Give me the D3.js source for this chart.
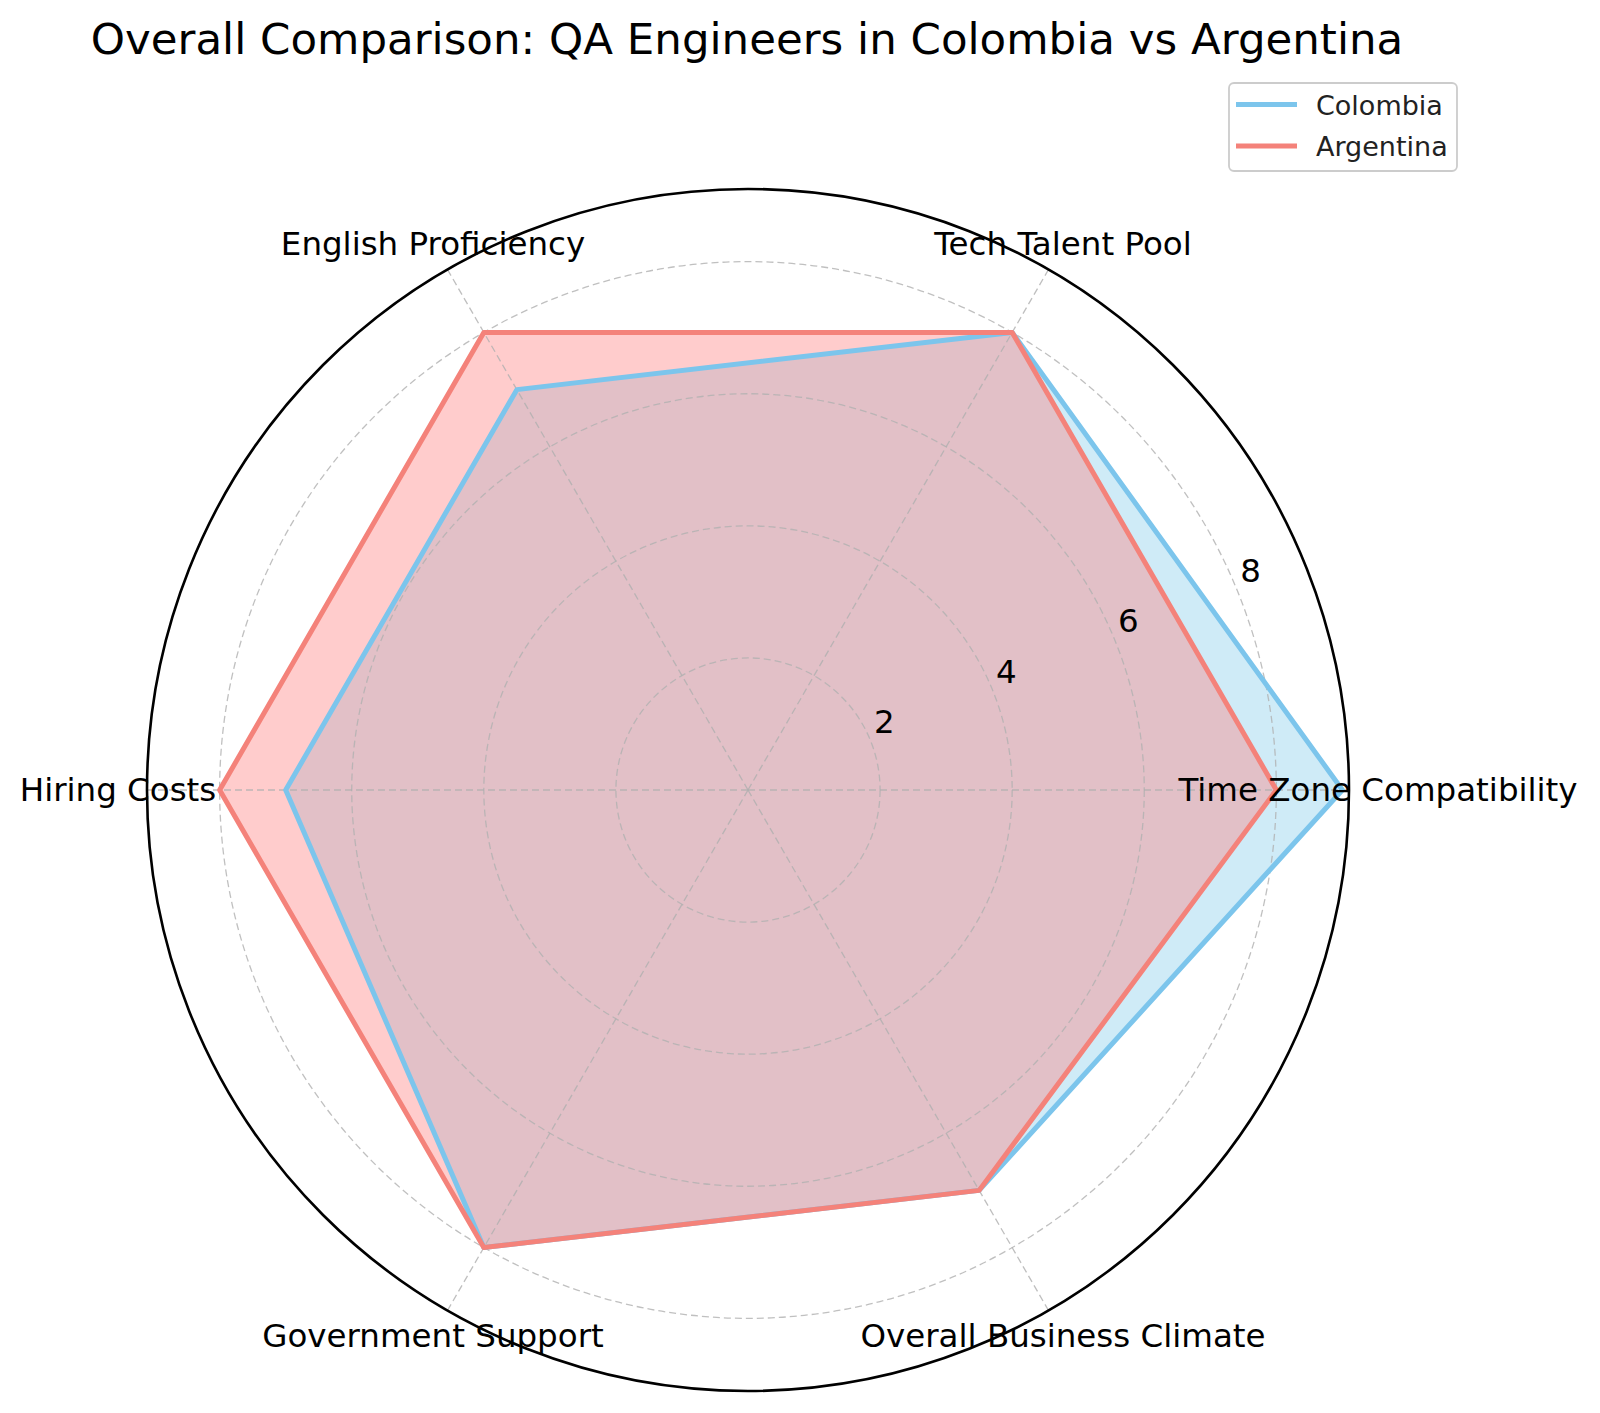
<!DOCTYPE html>
<html>
<head>
<meta charset="utf-8">
<script src="https://cdn.jsdelivr.net/npm/d3@7"></script>
<style>
html,body{margin:0;padding:0;background:#fff;}
svg{display:block;font-family:"DejaVu Sans",sans-serif;}
</style>
</head>
<body>
<svg id="chart" width="1600" height="1413"></svg>
<script>
const categories = ["Time Zone Compatibility","Tech Talent Pool","English Proficiency","Hiring Costs","Government Support","Overall Business Climate"];
const colombia = [9, 8, 7, 7, 8, 7];
const argentina = [8, 8, 8, 8, 8, 7];
const seriesNames = ["Colombia","Argentina"];
const rTicks = [2, 4, 6, 8];
const rMax = 9.1;

const colors = {Colombia: "#7CC5EC", Argentina: "#F4827A"};
const fills = {Colombia: "#87CEEB", Argentina: "#FF8080"};

const svg = d3.select("#chart");
const cx = 748, cy = 790, R = 601;
const r = d3.scaleLinear().domain([0, rMax]).range([0, R]);
const angle = d3.scaleLinear().domain([0, categories.length]).range([0, 2*Math.PI]);
const px = (i, v) => cx + r(v) * Math.cos(angle(i));
const py = (i, v) => cy - r(v) * Math.sin(angle(i));

const g = svg.append("g");
const series = [{name: "Colombia", values: colombia}, {name: "Argentina", values: argentina}];
const lineGen = d3.line().x(d => px(d.i, d.v)).y(d => py(d.i, d.v)).curve(d3.curveLinearClosed);

// fills
series.forEach(s => {
  const pts = s.values.map((v, i) => ({i, v}));
  g.append("path").attr("d", lineGen(pts))
    .attr("fill", fills[s.name]).attr("fill-opacity", 0.4).attr("stroke", "none");
});

// grid circles
rTicks.forEach(t => {
  g.append("circle").attr("cx", cx).attr("cy", cy).attr("r", r(t))
    .attr("fill", "none").attr("stroke", "#b0b0b0").attr("stroke-width", 1.3)
    .attr("stroke-dasharray", "7,4").attr("opacity", 0.8);
});
// spokes
categories.forEach((c, i) => {
  g.append("line").attr("x1", cx).attr("y1", cy).attr("x2", px(i, rMax)).attr("y2", py(i, rMax))
    .attr("stroke", "#b0b0b0").attr("stroke-width", 1.3)
    .attr("stroke-dasharray", "7,4").attr("opacity", 0.8);
});

// lines
series.forEach(s => {
  const pts = s.values.map((v, i) => ({i, v}));
  g.append("path").attr("d", lineGen(pts))
    .attr("fill", "none").attr("stroke", colors[s.name]).attr("stroke-width", 5)
    .attr("stroke-linejoin", "round");
});

// outer circle
g.append("circle").attr("cx", cx).attr("cy", cy).attr("r", r(rMax))
  .attr("fill", "none").attr("stroke", "#000").attr("stroke-width", 2.6);

// category labels
categories.forEach((c, i) => {
  const a = angle(i);
  g.append("text").attr("x", cx + 630 * Math.cos(a)).attr("y", cy - 630 * Math.sin(a))
    .attr("text-anchor", "middle").attr("dominant-baseline", "central")
    .attr("font-size", 32.5).attr("fill", "#000").text(c);
});

// radial tick labels
const ra = 22.5 * Math.PI / 180;
rTicks.forEach(t => {
  g.append("text").attr("x", cx + r(t) * Math.cos(ra) + 4).attr("y", cy - r(t) * Math.sin(ra) - 6)
    .attr("font-size", 32.5).attr("fill", "#000").text(t);
});

// title
svg.append("text").attr("x", 747).attr("y", 39).attr("text-anchor", "middle")
  .attr("dominant-baseline", "central").attr("font-size", 43.5).attr("fill", "#000")
  .text("Overall Comparison: QA Engineers in Colombia vs Argentina");

// legend
const lg = svg.append("g");
lg.append("rect").attr("x", 1229).attr("y", 83).attr("width", 228).attr("height", 88)
  .attr("rx", 5).attr("fill", "#fff").attr("fill-opacity", 0.8)
  .attr("stroke", "#cccccc").attr("stroke-width", 1.8);
seriesNames.forEach((n, k) => {
  const y = 104.5 + k * 41.5;
  lg.append("line").attr("x1", 1236).attr("x2", 1297).attr("y1", y).attr("y2", y)
    .attr("stroke", colors[n]).attr("stroke-width", 5);
  lg.append("text").attr("x", 1316).attr("y", y + 10).attr("font-size", 27)
    .attr("fill", "#222").text(n);
});
</script>
</body>
</html>
